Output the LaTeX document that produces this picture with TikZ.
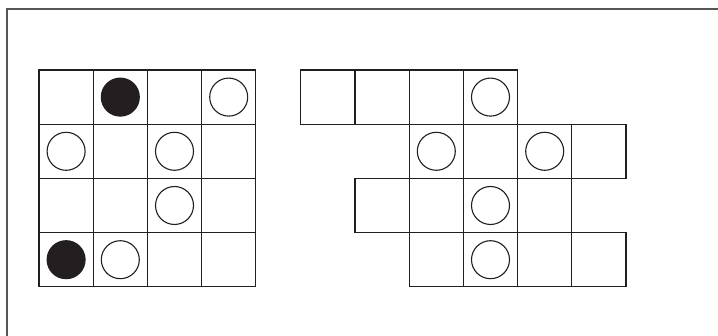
\documentclass[tikz,border=0pt]{standalone}
\definecolor{ink}{HTML}{231F20}
\definecolor{framecol}{HTML}{555555}
\begin{document}
\begin{tikzpicture}[x=1pt,y=-1pt,
  cellbox/.style={draw=ink,line width=1.2pt},
  stone/.style={circle,draw=ink,line width=1.1pt,minimum size=38pt,inner sep=0pt},
  whitestone/.style={stone,fill=white},
  blackstone/.style={stone,fill=ink}]
\useasboundingbox (0,0) rectangle (718,336);
\fill[white] (0,0) rectangle (718,336);
% frame (cropped on right and bottom)
\draw[framecol,line width=1.2pt] (7,340) -- (7,9) -- (722,9);
% left grid
\def\cs{54.2}
\foreach \r in {0,...,3}{
  \foreach \c in {0,...,3}{
    \draw[cellbox] (39+\c*\cs,70+\r*\cs) rectangle ++(\cs,\cs);
  }
}
\node[blackstone] (b01) at (39+1.5*\cs,70+0.5*\cs) {};
\node[whitestone] (w03) at (39+3.5*\cs,70+0.5*\cs) {};
\node[whitestone] (w10) at (39+0.5*\cs,70+1.5*\cs) {};
\node[whitestone] (w12) at (39+2.5*\cs,70+1.5*\cs) {};
\node[whitestone] (w22) at (39+2.5*\cs,70+2.5*\cs) {};
\node[blackstone] (b30) at (39+0.5*\cs,70+3.5*\cs) {};
\node[whitestone] (w31) at (39+1.5*\cs,70+3.5*\cs) {};
% right shape
\def\ox{300.8}
\foreach \r/\a/\b in {0/0/3, 1/2/5, 2/1/4, 3/2/5}{
  \foreach \c in {\a,...,\b}{
    \draw[cellbox] (\ox+\c*\cs,70+\r*\cs) rectangle ++(\cs,\cs);
  }
}
\node[whitestone] (r03) at (\ox+3.5*\cs,70+0.5*\cs) {};
\node[whitestone] (r12) at (\ox+2.5*\cs,70+1.5*\cs) {};
\node[whitestone] (r14) at (\ox+4.5*\cs,70+1.5*\cs) {};
\node[whitestone] (r23) at (\ox+3.5*\cs,70+2.5*\cs) {};
\node[whitestone] (r33) at (\ox+3.5*\cs,70+3.5*\cs) {};
\end{tikzpicture}
\end{document}
